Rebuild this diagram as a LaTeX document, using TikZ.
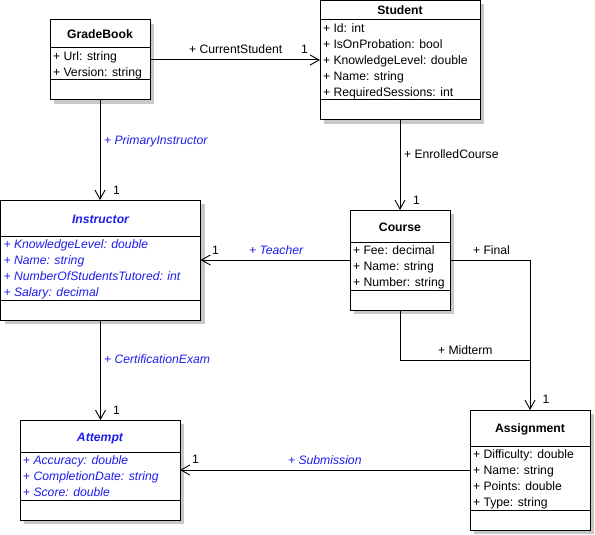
\documentclass[tikz,border=0pt]{standalone}
\usepackage{fontspec}
\setmainfont{Liberation Sans}
\usetikzlibrary{arrows.meta}
\definecolor{umlblue}{RGB}{30,30,235}
\definecolor{shadowc}{RGB}{200,200,200}
\newcommand{\umlclass}[7]{%
  \fill[shadowc] (#2+4,#3+4) rectangle (#4+4,#5+4);
  \node[classbox, minimum width=#4-#2, minimum height=#5-#3, anchor=north west] (#1) at (#2,#3) {};
  \draw[line width=1pt] (#2,#6) -- (#4,#6) (#2,#7) -- (#4,#7);
}
\tikzset{
  classbox/.style={draw, line width=1pt, fill=white, inner sep=0pt, outer sep=0pt},
  txt/.style={inner sep=0pt, outer sep=0pt, font=\fontsize{12.2}{14}\selectfont},
  attr/.style={txt, anchor=base west},
  iattr/.style={attr, text=umlblue, font=\fontsize{12.2}{14}\selectfont\itshape},
  ctitle/.style={txt, anchor=base, font=\fontsize{12.2}{14}\selectfont\bfseries},
  ictitle/.style={ctitle, text=umlblue, font=\fontsize{12.2}{14}\selectfont\bfseries\itshape},
  lbl/.style={attr},
  ilbl/.style={iattr},
  mult/.style={txt, anchor=base},
  assoc/.style={line width=1pt, -{Straight Barb[length=9pt,width=10pt,line width=0.9pt]}},
  plain/.style={line width=1pt},
}
\begin{document}
\begin{tikzpicture}[x=1pt,y=-1pt]
\useasboundingbox (0,0) rectangle (595,535);
% GradeBook
\umlclass{gb}{50}{20}{150}{100}{48}{80}
\node[ctitle] (gbt) at (100,38.5) {GradeBook};
\node[attr] (gb1) at (53,60.7) {+ Url: string};
\node[attr] (gb2) at (53,76.7) {+ Version: string};
% Student
\umlclass{st}{320}{0.5}{480}{120}{20}{100}
\node[ctitle] (stt) at (400,14.8) {Student};
\node[attr] (st1) at (323,32.7) {+ Id: int};
\node[attr] (st2) at (323,48.7) {+ IsOnProbation: bool};
\node[attr] (st3) at (323,64.7) {+ KnowledgeLevel: double};
\node[attr] (st4) at (323,80.7) {+ Name: string};
\node[attr] (st5) at (323,96.7) {+ RequiredSessions: int};
% Course
\umlclass{co}{350}{210}{450}{310}{242}{290}
\node[ctitle] (cot) at (400,231) {Course};
\node[attr] (co1) at (353,254.7) {+ Fee: decimal};
\node[attr] (co2) at (353,270.7) {+ Name: string};
\node[attr] (co3) at (353,286.7) {+ Number: string};
% Instructor
\umlclass{in}{0.5}{200}{200.5}{320}{236}{300}
\node[ictitle] (int) at (100.5,223) {Instructor};
\node[iattr] (in1) at (3.5,248.5) {+ KnowledgeLevel: double};
\node[iattr] (in2) at (3.5,264.7) {+ Name: string};
\node[iattr] (in3) at (3.5,280.7) {+ NumberOfStudentsTutored: int};
\node[iattr] (in4) at (3.5,296.7) {+ Salary: decimal};
% Attempt
\umlclass{at}{20}{420}{180}{520}{452}{500}
\node[ictitle] (att) at (100,441) {Attempt};
\node[iattr] (at1) at (23,464.5) {+ Accuracy: double};
\node[iattr] (at2) at (23,480.7) {+ CompletionDate: string};
\node[iattr] (at3) at (23,496.7) {+ Score: double};
% Assignment
\umlclass{as}{470}{410}{590}{530}{446}{510}
\node[ctitle] (ast) at (530,432.5) {Assignment};
\node[attr] (as1) at (473,458.7) {+ Difficulty: double};
\node[attr] (as2) at (473,474.7) {+ Name: string};
\node[attr] (as3) at (473,490.7) {+ Points: double};
\node[attr] (as4) at (473,506.7) {+ Type: string};
% connectors
\coordinate (mj) at (530,360);
\draw[assoc] (gb.east) -- (gb.east -| st.west);
\node[lbl] (l1) at (189,53.8) {+ CurrentStudent};
\node[mult] (m1) at (304.5,54) {1};
\draw[assoc] (gb.south) -- (gb.south |- in.north);
\node[ilbl] (l2) at (104,144) {+ PrimaryInstructor};
\node[mult] (m2) at (116.5,194.3) {1};
\draw[assoc] (st.south) -- (st.south |- co.north);
\node[lbl] (l3) at (404,158.7) {+ EnrolledCourse};
\node[mult] (m3) at (416.5,204.3) {1};
\draw[assoc] (co.west) -- (co.west -| in.east);
\node[ilbl] (l4) at (249,254) {+ Teacher};
\node[mult] (m4) at (215.5,254.3) {1};
\draw[assoc] (co.east) -- (co.east -| as.north) -- (as.north);
\node[lbl] (l5) at (473,254) {+ Final};
\node[mult] (m5) at (546,403.5) {1};
\draw[plain] (co.south) |- (mj);
\node[lbl] (l6) at (438,354) {+ Midterm};
\draw[assoc] (in.south) -- (in.south |- at.north);
\node[ilbl] (l7) at (104,363.3) {+ CertificationExam};
\node[mult] (m7) at (116.5,414.3) {1};
\draw[assoc] (as.west) -- (as.west -| at.east);
\node[ilbl] (l8) at (288,464) {+ Submission};
\node[mult] (m8) at (195.5,463.5) {1};
\end{tikzpicture}
\end{document}
